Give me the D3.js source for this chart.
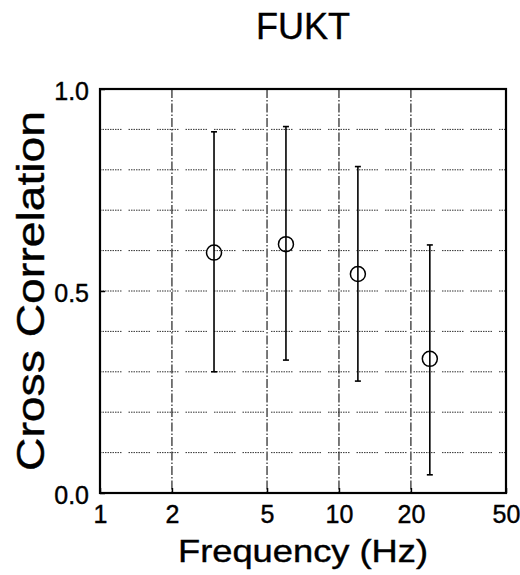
<!DOCTYPE html>
<html>
<head>
<meta charset="utf-8">
<script src="https://cdn.jsdelivr.net/npm/d3@7"></script>
<style>
  body { margin: 0; background: #fff; }
  text { font-family: "Liberation Sans", Arial, sans-serif; fill: #000; }
</style>
</head>
<body>
<svg id="chart"></svg>
<script>
// data
var freqs = [3, 6, 12, 24];
var means = [0.595, 0.616, 0.542, 0.332];
var lows  = [0.300, 0.329, 0.277, 0.045];
var highs = [0.894, 0.907, 0.808, 0.614];
var xTicks = [1, 2, 5, 10, 20, 50];
var xGrid = [2, 5, 10, 20];
var yTicks = [0, 0.5, 1];
var yGrid = [0.1, 0.2, 0.3, 0.4, 0.5, 0.6, 0.7, 0.8, 0.9];

var margin = {top: 89, right: 14, bottom: 82, left: 100},
    width = 520 - margin.left - margin.right,
    height = 575 - margin.top - margin.bottom;

var root = d3.select("#chart")
    .attr("width", 520)
    .attr("height", 575);

var svg = root.append("g")
    .attr("transform", "translate(" + margin.left + "," + margin.top + ")");

var x = d3.scaleLog().domain([1, 50]).range([0, width]);
var y = d3.scaleLinear().domain([0, 1]).range([height, 0]);

// horizontal dotted grid
svg.selectAll(".hgrid")
    .data(yGrid)
    .enter()
    .append("line")
    .attr("class", "hgrid")
    .attr("x1", 0).attr("x2", width)
    .attr("y1", function(d){ return y(d); })
    .attr("y2", function(d){ return y(d); })
    .style("stroke", "#333")
    .style("stroke-width", 1)
    .style("stroke-dasharray", "1.5,1,1.5,1,1.5,1,1.5,1,1.5,1,1.5,1,1.5,1,1.5,1,1.5,7");

// vertical dash-dot grid
svg.selectAll(".vgrid")
    .data(xGrid)
    .enter()
    .append("line")
    .attr("class", "vgrid")
    .attr("x1", function(d){ return x(d); })
    .attr("x2", function(d){ return x(d); })
    .attr("y1", 0).attr("y2", height)
    .style("stroke", "#222")
    .style("stroke-width", 1.2)
    .style("stroke-dasharray", "9,2,1.5,2");

// axes with inward ticks
svg.append("g")
    .attr("class", "x-axis")
    .attr("transform", "translate(0," + height + ")")
    .call(d3.axisBottom(x)
        .tickValues(xTicks)
        .tickFormat(d3.format("d"))
        .tickSize(-5)
        .tickPadding(12))
    .call(function(g){ g.select(".domain").remove(); })
    .style("font-size", "25px")
    .style("font-family", "Liberation Sans, Arial, sans-serif");

svg.append("g")
    .attr("class", "y-axis")
    .call(d3.axisLeft(y)
        .tickValues(yTicks)
        .tickFormat(d3.format(".1f"))
        .tickSize(-5)
        .tickPadding(11))
    .call(function(g){ g.select(".domain").remove(); })
    .style("font-size", "25px")
    .style("font-family", "Liberation Sans, Arial, sans-serif");

svg.selectAll(".tick line").style("stroke", "#000").style("stroke-width", 1.5);
svg.selectAll(".tick text").style("stroke", "#000").style("stroke-width", 0.4);
svg.selectAll(".y-axis .tick text").attr("dy", "0.42em");

// frame
svg.append("rect")
    .attr("x", 0).attr("y", 0)
    .attr("width", width).attr("height", height)
    .style("fill", "none")
    .style("stroke", "#000")
    .style("stroke-width", 2.2);

// error bars
var bars = svg.append("g").attr("class", "bars");
freqs.forEach(function(f, i){
    var cx = x(f);
    bars.append("line")
        .attr("x1", cx).attr("x2", cx)
        .attr("y1", y(lows[i])).attr("y2", y(highs[i]))
        .style("stroke", "#000").style("stroke-width", 1.6);
    [lows[i], highs[i]].forEach(function(v){
        bars.append("line")
            .attr("x1", cx - 3).attr("x2", cx + 3)
            .attr("y1", y(v)).attr("y2", y(v))
            .style("stroke", "#000").style("stroke-width", 1.6);
    });
    bars.append("circle")
        .attr("cx", cx).attr("cy", y(means[i]))
        .attr("r", 7.5)
        .style("fill", "none")
        .style("stroke", "#000")
        .style("stroke-width", 1.5);
});

// titles
root.append("text")
    .attr("x", margin.left + width / 2)
    .attr("y", 39)
    .attr("text-anchor", "middle")
    .style("font-size", "36px")
    .style("stroke", "#000").style("stroke-width", 0.4)
    .text("FUKT");

root.append("text")
    .attr("x", margin.left + width / 2)
    .attr("y", 562)
    .attr("text-anchor", "middle")
    .style("font-size", "32px")
    .style("stroke", "#000").style("stroke-width", 0.4)
    .attr("textLength", 250)
    .attr("lengthAdjust", "spacingAndGlyphs")
    .text("Frequency (Hz)");

root.append("text")
    .attr("transform", "translate(44," + (margin.top + height / 2) + ") rotate(-90)")
    .attr("text-anchor", "middle")
    .style("font-size", "39px")
    .style("stroke", "#000").style("stroke-width", 0.4)
    .attr("textLength", 360)
    .attr("lengthAdjust", "spacingAndGlyphs")
    .text("Cross Correlation");
</script>
</body>
</html>
